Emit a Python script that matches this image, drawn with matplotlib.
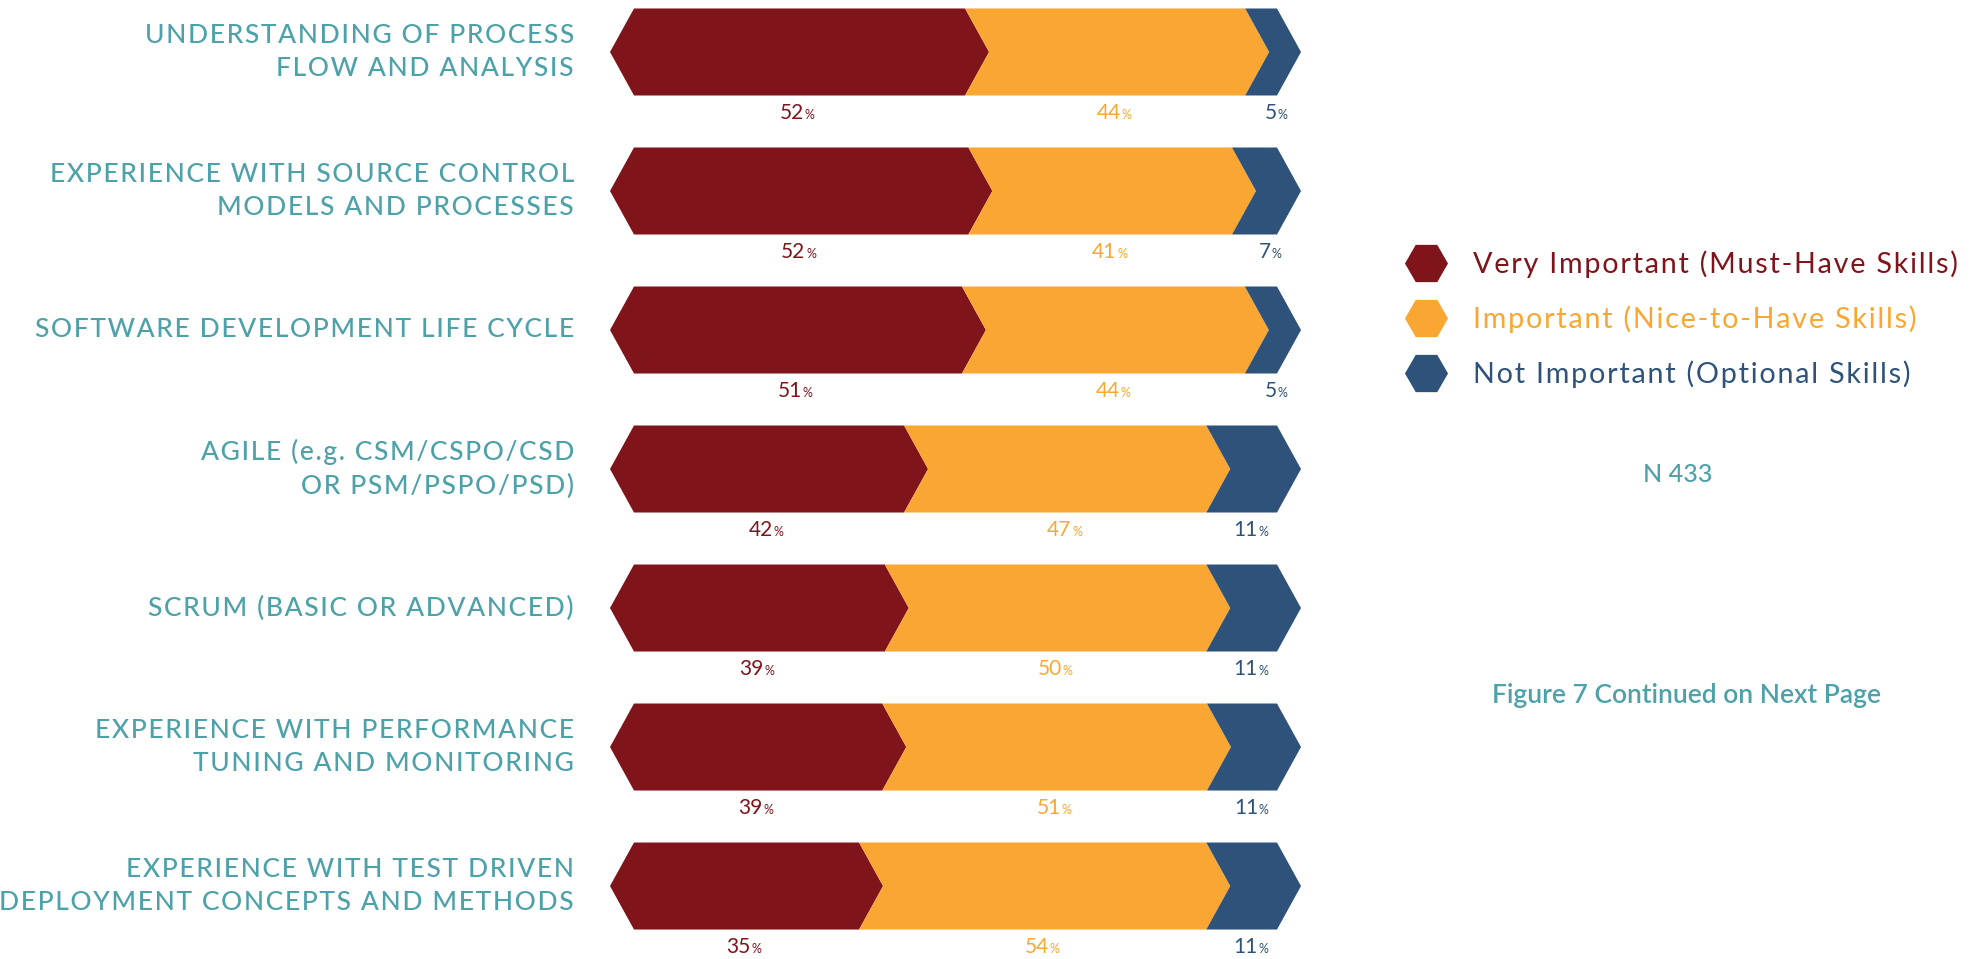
import matplotlib.pyplot as plt
from matplotlib.patches import Polygon
from matplotlib.lines import Line2D

plt.rcParams['font.family'] = ['Lato', 'DejaVu Sans']

categories = [
    "UNDERSTANDING OF PROCESS\nFLOW AND ANALYSIS",
    "EXPERIENCE WITH SOURCE CONTROL\nMODELS AND PROCESSES",
    "SOFTWARE DEVELOPMENT LIFE CYCLE",
    "AGILE (e.g. CSM/CSPO/CSD\nOR PSM/PSPO/PSD)",
    "SCRUM (BASIC OR ADVANCED)",
    "EXPERIENCE WITH PERFORMANCE\nTUNING AND MONITORING",
    "EXPERIENCE WITH TEST DRIVEN\nDEPLOYMENT CONCEPTS AND METHODS",
]
very_important = [52, 52, 51, 42, 39, 39, 35]
important = [44, 41, 44, 47, 50, 51, 54]
not_important = [5, 7, 5, 11, 11, 11, 11]

series_names = [
    "Very Important (Must-Have Skills)",
    "Important (Nice-to-Have Skills)",
    "Not Important (Optional Skills)",
]
colors = ['#7F141B', '#F9A633', '#2E5279']
teal = '#4DA1A9'


def tracked(s, sp='\u200a'):
    # fake letter spacing with hair spaces
    return '\n'.join(sp.join(line) for line in s.split('\n'))


W, H = 1977, 959
fig = plt.figure(figsize=(W / 100, H / 100), dpi=100)

# bar axes: 0..100 % spans the flat part of the bars
x0_px, x1_px = 634, 1277
ax = fig.add_axes([x0_px / W, 0, (x1_px - x0_px) / W, 1])
ax.set_xlim(0, 100)
ax.set_ylim(6.525, -0.374)
ax.axis('off')

px_per_unit = (x1_px - x0_px) / 100
tip = 24 / px_per_unit   # chevron depth in data units
half = 0.313             # half bar height

for i, cat in enumerate(categories):
    vals = [very_important[i], important[i], not_important[i]]
    total = sum(vals)
    left = 0
    for j, v in enumerate(vals):
        w = v / total * 100
        right = left + w
        if j == 0:
            pts = [(left - tip, i), (left, i - half), (right, i - half),
                   (right + tip, i), (right, i + half), (left, i + half)]
        else:
            pts = [(left, i - half), (right, i - half), (right + tip, i),
                   (right, i + half), (left, i + half), (left + tip, i)]
        ax.add_patch(Polygon(pts, closed=True, facecolor=colors[j],
                             edgecolor='none', clip_on=False))
        # value label under segment
        cx = (left + right) / 2 + (tip / 2 if j > 0 else 0)
        ax.annotate(str(v), (cx, i + half + 0.17), xytext=(3, 0),
                    textcoords='offset points', ha='right', va='baseline',
                    fontsize=15, color=colors[j], annotation_clip=False)
        ax.annotate('%', (cx, i + half + 0.17), xytext=(3.5, 0),
                    textcoords='offset points', ha='left', va='baseline',
                    fontsize=9, color=colors[j], annotation_clip=False)
        left = right

    ax.annotate(tracked(cat), (0, i), xytext=(-(x0_px - 574) * 0.72, 0),
                textcoords='offset points', ha='right', va='center',
                fontsize=19, color=teal, fontweight='medium',
                linespacing=1.4, annotation_clip=False)

handles = [Line2D([], [], marker='H', linestyle='none', markersize=31,
                  markerfacecolor=c, markeredgecolor='none') for c in colors]
fig.legend(handles, [tracked(s) for s in series_names], loc='center left',
           bbox_to_anchor=(1405 / W, 1 - 319 / H), frameon=False,
           fontsize=20.7, labelcolor=colors, handlelength=1.45,
           handletextpad=0.9, labelspacing=0.95, borderpad=0,
           borderaxespad=0)

fig.text(1678 / W, 1 - 474 / H, "N 433", ha='center', va='center',
         fontsize=18, color=teal, fontweight='medium')
fig.text(1686 / W, 1 - 695 / H, "Figure 7 Continued on Next Page",
         ha='center', va='center', fontsize=19, color=teal,
         fontweight='semibold')

fig.savefig('out.png', dpi=100)
